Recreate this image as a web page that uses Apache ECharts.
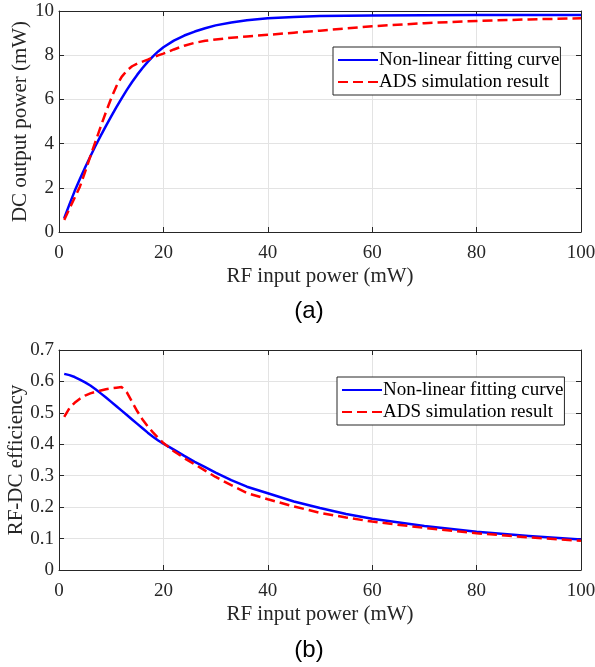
<!DOCTYPE html>
<html><head><meta charset="utf-8">
<script src="https://cdn.jsdelivr.net/npm/echarts@6/dist/echarts.min.js"></script>
<style>html,body{margin:0;padding:0;background:#fff}#c{width:595px;height:667px}</style>
</head><body><div id="c"></div>
<script>
// RF input power (mW)
const xs      = [1,2,3,4,5,6,7,8,9,10,11,12,13,14,15,16,17,18,19,20,22,24,26,28,30,33,36,40,45,50,55,60,70,80,90,100];
// (a) DC output power (mW)
const dcFit   = [0.62,1.25,1.85,2.4,2.92,3.42,3.9,4.36,4.8,5.23,5.65,6.05,6.43,6.79,7.12,7.42,7.7,7.95,8.17,8.36,8.66,8.89,9.07,9.22,9.35,9.48,9.58,9.67,9.73,9.77,9.79,9.8,9.81,9.82,9.82,9.82];
const dcAds   = [0.55,1.05,1.55,2.05,2.72,3.42,4.1,4.78,5.43,6.05,6.6,7.02,7.3,7.5,7.62,7.71,7.8,7.9,7.99,8.07,8.26,8.43,8.56,8.65,8.71,8.79,8.85,8.92,9.02,9.11,9.21,9.31,9.45,9.55,9.62,9.67];
// (b) RF-DC efficiency
const effFit  = [0.624,0.62,0.614,0.606,0.597,0.587,0.575,0.562,0.549,0.535,0.521,0.507,0.493,0.479,0.465,0.451,0.437,0.424,0.412,0.402,0.383,0.363,0.344,0.327,0.31,0.286,0.265,0.244,0.218,0.197,0.178,0.163,0.14,0.122,0.108,0.097];
const effAds  = [0.487,0.515,0.532,0.545,0.555,0.562,0.567,0.571,0.575,0.578,0.58,0.582,0.565,0.535,0.505,0.479,0.457,0.438,0.42,0.404,0.378,0.356,0.336,0.316,0.296,0.27,0.245,0.225,0.202,0.182,0.167,0.154,0.134,0.117,0.104,0.093];

const names = ['Non-linear fitting curve', 'ADS simulation result'];
const xAxisTitle = 'RF input power (mW)';
const yTitles = ['DC output power (mW)', 'RF-DC efficiency'];
const panelLabels = ['(a)', '(b)'];
const xRange = {min: 0, max: 100, interval: 20};
const yRanges = [{min: 0, max: 10, interval: 2}, {min: 0, max: 0.7, interval: 0.1}];
const yNameGaps = [28, 32];

const AX = '#262626', GRIDC = '#e3e3e3', SERIF = 'Liberation Serif', SANS = 'Liberation Sans';
const pair = ys => xs.map((x, i) => [x, ys[i]]);

function xAx(grid, pos, main) {
  return Object.assign({
    type: 'value', gridIndex: grid, position: pos,
    axisLine: {show: true, onZero: false, lineStyle: {color: AX, width: 1}},
    axisTick: {show: true, inside: true, length: 5, lineStyle: {color: AX}},
    axisLabel: {show: main, color: AX, fontFamily: SERIF, fontSize: 19, margin: 12},
    splitLine: {show: main, lineStyle: {color: GRIDC, width: 1}},
    name: main ? xAxisTitle : '', nameLocation: 'middle', nameGap: 34, nameMoveOverlap: false,
    nameTextStyle: {color: AX, fontFamily: SERIF, fontSize: 21}
  }, xRange);
}
function yAx(grid, pos, main) {
  return Object.assign({
    type: 'value', gridIndex: grid, position: pos,
    axisLine: {show: true, onZero: false, lineStyle: {color: AX, width: 1}},
    axisTick: {show: true, inside: true, length: 5, lineStyle: {color: AX}},
    axisLabel: {show: main, color: AX, fontFamily: SERIF, fontSize: 19, margin: 5},
    splitLine: {show: main, lineStyle: {color: GRIDC, width: 1}},
    name: main ? yTitles[grid] : '', nameLocation: 'middle', nameGap: yNameGaps[grid], nameRotate: 90,
    nameMoveOverlap: false,
    nameTextStyle: {color: AX, fontFamily: SERIF, fontSize: 21}
  }, yRanges[grid]);
}
function ser(name, data, xi, yi, color, dashed) {
  return {
    name, type: 'line', data, xAxisIndex: xi, yAxisIndex: yi,
    showSymbol: false, symbol: 'none', smooth: false,
    lineStyle: {color, width: 2.5, type: dashed ? [10, 5] : 'solid', join: 'round', cap: 'butt'},
    itemStyle: {color}, z: dashed ? 3 : 2, animation: false
  };
}
function legend(left, top) {
  return {
    left, top, orient: 'vertical', data: names,
    backgroundColor: '#fff', borderColor: AX, borderWidth: 1,
    padding: [3, 1, 3, 4], itemGap: 2, itemWidth: 40, itemHeight: 14,
    itemStyle: {color: 'transparent', borderWidth: 0, opacity: 0},
    textStyle: {color: '#000', fontFamily: SERIF, fontSize: 19, lineHeight: 20, padding: [0, 0, 0, -4]},
    selectedMode: false
  };
}

const chart = echarts.init(document.getElementById('c'), null, {renderer: 'canvas'});
chart.setOption({
  animation: false,
  backgroundColor: '#fff',
  grid: [
    {left: 59, right: 14, top: 11, height: 221, outerBoundsMode: 'none', containLabel: false},
    {left: 59, right: 14, top: 350, height: 220, outerBoundsMode: 'none', containLabel: false}
  ],
  xAxis: [xAx(0, 'bottom', true), xAx(0, 'top', false), xAx(1, 'bottom', true), xAx(1, 'top', false)],
  yAxis: [yAx(0, 'left', true), yAx(0, 'right', false), yAx(1, 'left', true), yAx(1, 'right', false)],
  legend: [legend(333, 47), legend(337, 377)],
  series: [
    ser(names[0], pair(dcFit), 0, 0, '#0000ff', false),
    ser(names[1], pair(dcAds), 0, 0, '#ff0000', true),
    ser(names[0], pair(effFit), 2, 2, '#0000ff', false),
    ser(names[1], pair(effAds), 2, 2, '#ff0000', true)
  ],
  graphic: [
    {type: 'text', x: 309, y: 311, style: {text: panelLabels[0], font: '24px ' + SANS, fill: '#000', align: 'center', verticalAlign: 'middle'}},
    {type: 'text', x: 309, y: 650, style: {text: panelLabels[1], font: '24px ' + SANS, fill: '#000', align: 'center', verticalAlign: 'middle'}}
  ]
});
</script></body></html>
